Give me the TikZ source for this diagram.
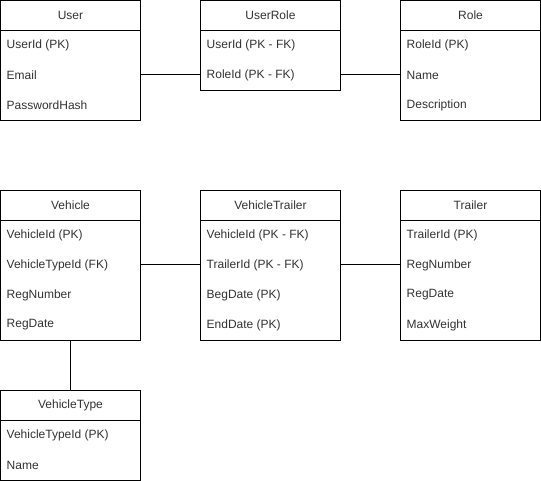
\documentclass[tikz,border=0pt]{standalone}
\usepackage{fontspec}
\setmainfont{Liberation Sans}
\definecolor{txt}{HTML}{333333}
\begin{document}
\begin{tikzpicture}[x=1pt,y=-1pt,
  tbox/.style={draw=black, line width=1pt, minimum width=140pt, anchor=north west, inner sep=0pt, outer sep=0pt, fill=white},
  thead/.style={tbox, minimum height=30pt, text=txt, font=\fontsize{12pt}{14pt}\selectfont},
  tbody/.style={tbox, anchor=north west},
  row/.style={anchor=west, inner sep=0pt, text=txt, font=\fontsize{12pt}{14pt}\selectfont},
  link/.style={draw=black, line width=1pt}]
\useasboundingbox (0,0) rectangle (541,481);
% User
\node[thead] (user) at (0.5,0.5) {User};
\node[tbody, minimum height=90pt] (userb) at (0.5,30.5) {};
\node[row] (u1) at (6.5,45) {UserId (PK)};
\node[row] (u2) at (6.5,75) {Email};
\node[row] (u3) at (6.5,105) {PasswordHash};
% UserRole
\node[thead] (ur) at (200.5,0.5) {UserRole};
\node[tbody, minimum height=60pt] (urb) at (200.5,30.5) {};
\node[row] (ur1) at (206.5,45) {UserId (PK - FK)};
\node[row] (ur2) at (206.5,75) {RoleId (PK - FK)};
% Role
\node[thead] (role) at (400.5,0.5) {Role};
\node[tbody, minimum height=90pt] (roleb) at (400.5,30.5) {};
\node[row] (r1) at (406.5,45) {RoleId (PK)};
\node[row] (r2) at (406.5,75) {Name};
\node[row] (r3) at (406.5,105) {Description};
% Vehicle
\node[thead] (veh) at (0.5,190.5) {Vehicle};
\node[tbody, minimum height=120pt] (vehb) at (0.5,220.5) {};
\node[row] (v1) at (6.5,235) {VehicleId (PK)};
\node[row] (v2) at (6.5,265) {VehicleTypeId (FK)};
\node[row] (v3) at (6.5,295) {RegNumber};
\node[row] (v4) at (6.5,325) {RegDate};
% VehicleTrailer
\node[thead] (vt) at (200.5,190.5) {VehicleTrailer};
\node[tbody, minimum height=120pt] (vtb) at (200.5,220.5) {};
\node[row] (vt1) at (206.5,235) {VehicleId (PK - FK)};
\node[row] (vt2) at (206.5,265) {TrailerId (PK - FK)};
\node[row] (vt3) at (206.5,295) {BegDate (PK)};
\node[row] (vt4) at (206.5,325) {EndDate (PK)};
% Trailer
\node[thead] (tr) at (400.5,190.5) {Trailer};
\node[tbody, minimum height=120pt] (trb) at (400.5,220.5) {};
\node[row] (t1) at (406.5,235) {TrailerId (PK)};
\node[row] (t2) at (406.5,265) {RegNumber};
\node[row] (t3) at (406.5,295) {RegDate};
\node[row] (t4) at (406.5,325) {MaxWeight};
% VehicleType
\node[thead] (vty) at (0.5,390.5) {VehicleType};
\node[tbody, minimum height=60pt] (vtyb) at (0.5,420.5) {};
\node[row] (vy1) at (6.5,435) {VehicleTypeId (PK)};
\node[row] (vy2) at (6.5,465) {Name};
% connectors
\draw[link] (userb.east |- u2) -- (urb.west |- ur2);
\draw[link] (urb.east |- ur2) -- (roleb.west |- r2);
\draw[link] (vehb.east |- v2) -- (vtb.west |- vt2);
\draw[link] (vtb.east |- vt2) -- (trb.west |- t2);
\draw[link] (vehb.south) -- (vty.north);
\end{tikzpicture}
\end{document}
